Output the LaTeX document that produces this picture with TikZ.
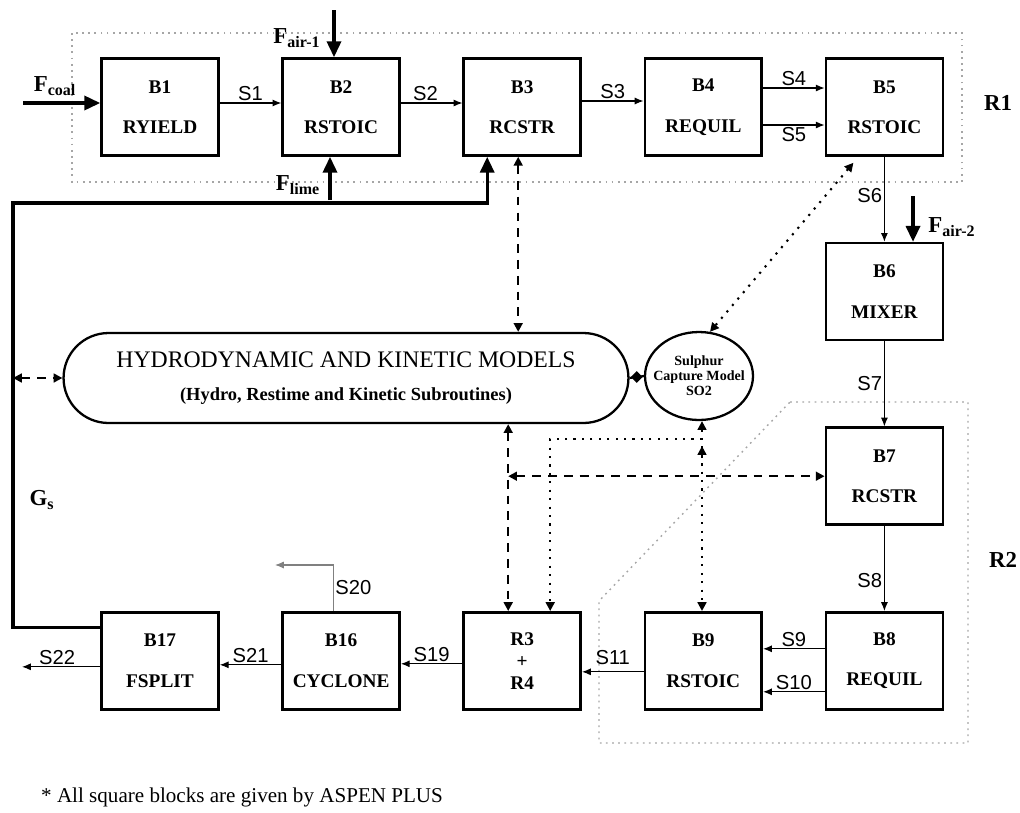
\documentclass[tikz,border=0pt]{standalone}
\usepackage{fontspec}
\setmainfont{Liberation Serif}
\setsansfont{Liberation Sans}
\usetikzlibrary{shapes.geometric, arrows.meta, positioning, calc}

\begin{document}
\begin{tikzpicture}[
    x=0.02cm, y=-0.02cm,
    node distance=1.70cm and 1.23cm,
    block/.style={draw, line width=1.5pt, minimum width=2.34cm, minimum height=1.94cm, inner sep=0pt, align=center, font=\bfseries\fontsize{11}{13}\selectfont},
    model/.style={draw, line width=1.3pt, rounded corners=0.9cm, minimum width=11.3cm, minimum height=1.8cm, align=center, font=\fontsize{13.5}{16}\selectfont},
    sulphur/.style={draw, ellipse, line width=1.3pt, minimum width=2.16cm, minimum height=1.76cm, inner xsep=-6pt, inner ysep=0pt, align=center, font=\bfseries\fontsize{8}{8.5}\selectfont},
    stream/.style={font=\sffamily\fontsize{11.5}{12}\selectfont, inner sep=1pt},
    feedlabel/.style={font=\bfseries\fontsize{13}{14}\selectfont, inner sep=0pt},
    flow/.style={-{Latex[length=5pt, width=4pt]}, line width=0.6pt},
    feed/.style={-{Triangle[length=9pt, width=8pt]}, line width=1.8pt},
    dashlink/.style={{Triangle[length=5pt, width=5pt]}-{Triangle[length=5pt, width=5pt]}, line width=1.2pt, dash pattern=on 5pt off 4pt},
    dotlink/.style={{Triangle[length=5pt, width=5pt]}-{Triangle[length=5pt, width=5pt]}, line width=1.2pt, dash pattern=on 1.2pt off 3.6pt},
    zone/.style={gray!70, line width=0.8pt, dash pattern=on 1pt off 2.5pt}
]
\useasboundingbox (0,0) rectangle (1020,812);

\draw[zone] (72,33) rectangle (962,182);
\draw[zone] (790,402) -- (968,402) -- (968,743) -- (599,743) -- (599,601) -- cycle;
\node[font=\bfseries\fontsize{13}{14}\selectfont] (r1) at (998,103) {R1};
\node[font=\bfseries\fontsize{13}{14}\selectfont] (r2) at (1003,560) {R2};

\node[block] (b1) at (160,107) {B1\\[10pt]RYIELD};
\node[block, right=of b1] (b2) {B2\\[10pt]RSTOIC};
\node[block, right=of b2] (b3) {B3\\[10pt]RCSTR};
\node[block, right=of b3] (b4) {B4\\[10pt]REQUIL};
\node[block, right=of b4] (b5) {B5\\[10pt]RSTOIC};
\node[block, below=of b5] (b6) {B6\\[10pt]MIXER};
\node[block, below=of b6] (b7) {B7\\[10pt]RCSTR};
\node[block, below=of b7] (b8) {B8\\[10pt]REQUIL};
\node[block, left=of b8] (b9) {B9\\[10pt]RSTOIC};
\node[block, left=of b9, font=\bfseries\fontsize{11}{12.5}\selectfont] (r3) {R3\\+\\R4};
\node[block, left=of r3] (b16) {B16\\[10pt]CYCLONE};
\node[block, left=of b16] (b17) {B17\\[10pt]FSPLIT};

\node[model] (hk) at (346,378) {HYDRODYNAMIC AND KINETIC MODELS\\[3pt]{\bfseries\fontsize{10.5}{12}\selectfont (Hydro, Restime and Kinetic Subroutines)}};
\node[sulphur] (so2) at (699,376) {Sulphur\\Capture Model\\SO2};

\coordinate (coalin) at (23,103);
\coordinate (air1in) at (334,10);
\coordinate (limein) at (330,200);
\coordinate (air2in) at (913,196);
\coordinate (gscorner) at (13,203);
\coordinate (s20out) at (275,565);
\coordinate (s22out) at (22,665);

\draw[feed] (coalin) -- (coalin -| b1.west);
\draw[feed] (air1in) -- (air1in |- b2.north);
\draw[feed] (limein) -- (limein |- b2.south);
\draw[feed] (air2in) -- (air2in |- b6.north);
\node[feedlabel] (fcoal) at (55,86) {F\textsubscript{coal}};
\node[feedlabel] (fair1) at (297,38) {F\textsubscript{air-1}};
\node[feedlabel] (flime) at (298,185) {F\textsubscript{lime}};
\node[feedlabel] (fair2) at (952,227) {F\textsubscript{air-2}};

\draw[flow] ($(b1.east)+(0,-4)$) -- node[stream, above]{S1} ($(b2.west)+(0,-4)$);
\draw[flow] ($(b2.east)+(0,-4)$) -- node[stream, above, pos=0.4]{S2} ($(b3.west)+(0,-4)$);
\draw[flow] ($(b3.east)+(0,-6)$) -- node[stream, above]{S3} ($(b4.west)+(0,-6)$);
\draw[flow] ($(b4.east)+(0,-19)$) -- node[stream, above]{S4} ($(b5.west)+(0,-19)$);
\draw[flow] ($(b4.east)+(0,18)$) -- node[stream, below]{S5} ($(b5.west)+(0,18)$);
\draw[flow] (b5) -- node[stream, left, pos=0.46]{S6} (b6);
\draw[flow] (b6) -- node[stream, left]{S7} (b7);
\draw[flow] (b7) -- node[stream, left, pos=0.64]{S8} (b8);
\draw[flow] ($(b8.west)+(0,-12)$) -- node[stream, above]{S9} ($(b9.east)+(0,-12)$);
\draw[flow] ($(b8.west)+(0,31)$) -- node[stream, above]{S10} ($(b9.east)+(0,31)$);
\draw[flow] ($(b9.west)+(0,11)$) -- node[stream, above=3pt]{S11} ($(r3.east)+(0,11)$);
\draw[flow] ($(r3.west)+(0,3)$) -- node[stream, above]{S19} ($(b16.east)+(0,3)$);
\draw[flow] ($(b16.west)+(0,4)$) -- node[stream, above]{S21} ($(b17.east)+(0,4)$);
\draw[flow] ($(b17.west)+(0,6)$) -- node[stream, above, pos=0.55]{S22} ($(b17.west -| s22out)+(0,6)$);
\draw[flow, gray] ($(b16.north)+(-8,0)$) |- node[stream, right, pos=0.25, black]{S20} (s20out);

\draw[feed] ($(b17.west)+(0,-33)$) -| (gscorner) -| ($(b3.south)+(-35,0)$);
\node[feedlabel] (gs) at (42,500) {G\textsubscript{s}};

\draw[line width=1.2pt] (hk.east) -- node[diamond, fill, inner sep=1.8pt]{} (so2.west);
\draw[dashlink] ($(b3.south)+(-4,0)$) -- ($(b3.south |- hk.north)+(-4,0)$);
\draw[dashlink] (hk.west -| gscorner) -- (hk.west);
\draw[dashlink] ($(hk.south -| r3.north)+(-14,0)$) -- ($(r3.north)+(-14,0)$);
\coordinate (dashjoin) at ($(b7.west -| r3.north)+(-14,0)$);
\draw[dashlink] (dashjoin) -- (b7.west);

\draw[dotlink] ($(b5.south)+(-31,6)$) -- (so2.76);
\draw[dotlink] ($(so2.south)+(3,0)$) -- ($(so2.south |- b9.north)+(3,0)$);
\coordinate (dotjoin) at ($(so2.south)+(3,18)$);
\draw[dotlink, -{Triangle[length=5pt, width=5pt]}] (dotjoin) -| ($(r3.north)+(28,0)$);
\draw[dotlink, -{Triangle[length=5pt, width=5pt]}] ($(so2.south)+(3,45)$) -- ($(so2.south)+(3,25)$);

\node[anchor=west, font=\fontsize{12}{14}\selectfont] (note) at (35,797) {* All square blocks are given by ASPEN PLUS};
\end{tikzpicture}
\end{document}
